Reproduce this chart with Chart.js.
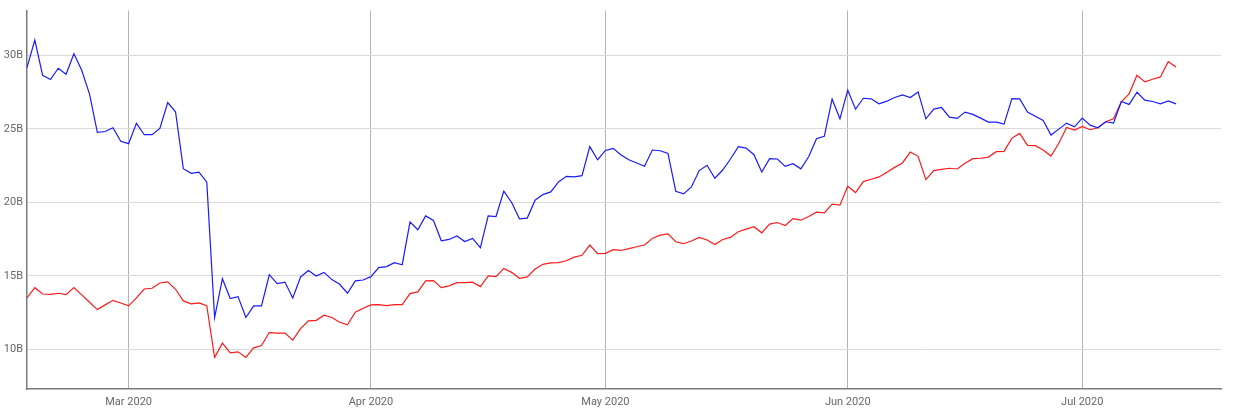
<!DOCTYPE html>
<html>
<head>
<meta charset="utf-8">
<script src="https://cdn.jsdelivr.net/npm/chart.js@4/dist/chart.umd.min.js"></script>
<style>
  html, body { margin: 0; padding: 0; background: #fff; }
  #wrap { width: 1243px; height: 415px; position: relative; }
</style>
</head>
<body>
<div id="wrap"><canvas id="chart"></canvas></div>
<script>
// day-of-year (Jan 1 2020 = 0) of the first point: Feb 17 2020, one point per day
const startDay = 47;

// values in billions
const blueValues = [
  29.16, 31.04, 28.64, 28.35, 29.12, 28.71, 30.11, 28.98, 27.36, 24.76,
  24.82, 25.07, 24.15, 23.99, 25.37, 24.6, 24.6, 25.03, 26.79, 26.16,
  22.29, 21.98, 22.05, 21.37, 12.17, 14.81, 13.46, 13.59, 12.17, 12.96,
  12.96, 15.08, 14.47, 14.58, 13.5, 14.93, 15.36, 14.99, 15.24, 14.75,
  14.43, 13.82, 14.66, 14.72, 14.95, 15.56, 15.63, 15.9, 15.76, 18.66,
  18.14, 19.08, 18.77, 17.39, 17.48, 17.71, 17.34, 17.55, 16.92, 19.08,
  19.04, 20.76, 19.99, 18.88, 18.93, 20.15, 20.53, 20.71, 21.39, 21.77,
  21.73, 21.82, 23.79, 22.9, 23.53, 23.67, 23.22, 22.9, 22.68, 22.45,
  23.56, 23.51, 23.33, 20.76, 20.58, 21.05, 22.16, 22.52, 21.64, 22.2,
  22.95, 23.79, 23.69, 23.24, 22.07, 22.97, 22.95, 22.45, 22.63, 22.28,
  23.1, 24.33, 24.49, 27.02, 25.68, 27.63, 26.34, 27.08, 27.04, 26.7,
  26.88, 27.13, 27.31, 27.13, 27.51, 25.68, 26.34, 26.45, 25.8, 25.71,
  26.14, 25.98, 25.73, 25.46, 25.46, 25.32, 27.06, 27.04, 26.14, 25.86,
  25.57, 24.58, 24.98, 25.39, 25.14, 25.73, 25.25, 25.07, 25.48, 25.39,
  26.86, 26.66, 27.49, 26.95, 26.86, 26.7, 26.9, 26.7
];
const redValues = [
  13.5, 14.2, 13.77, 13.75, 13.82, 13.73, 14.2, 13.71, 13.21, 12.71,
  13.03, 13.34, 13.16, 12.96, 13.5, 14.11, 14.16, 14.52, 14.59, 14.09,
  13.3, 13.1, 13.16, 12.98, 9.46, 10.43, 9.77, 9.84, 9.46, 10.11,
  10.27, 11.15, 11.11, 11.11, 10.63, 11.42, 11.94, 11.98, 12.33, 12.17,
  11.85, 11.67, 12.53, 12.8, 13.03, 13.05, 12.98, 13.05, 13.05, 13.8,
  13.91, 14.66, 14.68, 14.2, 14.32, 14.54, 14.54, 14.57, 14.27, 15.0,
  14.95, 15.51, 15.24, 14.84, 14.93, 15.47, 15.79, 15.88, 15.9, 16.03,
  16.28, 16.4, 17.1, 16.51, 16.53, 16.78, 16.73, 16.85, 16.98, 17.1,
  17.55, 17.77, 17.86, 17.32, 17.19, 17.37, 17.62, 17.44, 17.14, 17.48,
  17.62, 18.0, 18.18, 18.34, 17.93, 18.52, 18.63, 18.43, 18.9, 18.79,
  19.04, 19.33, 19.29, 19.88, 19.81, 21.1, 20.67, 21.41, 21.57, 21.73,
  22.05, 22.38, 22.68, 23.42, 23.13, 21.55, 22.16, 22.25, 22.32, 22.27,
  22.66, 22.97, 23.0, 23.08, 23.45, 23.47, 24.37, 24.69, 23.88, 23.86,
  23.56, 23.15, 24.02, 25.1, 24.92, 25.16, 24.94, 25.07, 25.48, 25.68,
  26.84, 27.38, 28.64, 28.19, 28.37, 28.53, 29.57, 29.21
];

// month ticks on the x axis
const monthDays = [60, 91, 121, 152, 182];
const monthLabels = ['Mar 2020', 'Apr 2020', 'May 2020', 'Jun 2020', 'Jul 2020'];
// y ticks (billions)
const yTicks = [10, 15, 20, 25, 30];

const toPoints = (arr) => arr.map((v, i) => ({ x: startDay + i, y: v }));

Chart.defaults.font.family = 'Roboto, "Noto Sans", sans-serif';
Chart.defaults.font.size = 11;
Chart.defaults.color = '#666';

new Chart(document.getElementById('chart').getContext('2d'), {
    type: 'line',
    data: {
        datasets: [
            {
                label: 'Series 1',
                data: toPoints(blueValues),
                borderColor: '#1a1aff',
                borderWidth: 1.2,
                pointRadius: 0,
                tension: 0,
                fill: false
            },
            {
                label: 'Series 2',
                data: toPoints(redValues),
                borderColor: '#ff1a1a',
                borderWidth: 1.2,
                pointRadius: 0,
                tension: 0,
                fill: false
            }
        ]
    },
    options: {
        responsive: true,
        maintainAspectRatio: false,
        animation: false,
        layout: { padding: { top: 5, right: 22, bottom: 0, left: 0 } },
        plugins: {
            legend: { display: false },
            tooltip: { enabled: false }
        },
        scales: {
            x: {
                type: 'linear',
                min: 47,
                max: 199.75,
                afterBuildTicks: (axis) => {
                    axis.ticks = monthDays.map((d) => ({ value: d }));
                },
                afterFit: (axis) => { axis.height = 26; },
                ticks: {
                    padding: 7,
                    maxRotation: 0,
                    autoSkip: false,
                    callback: (v) => monthLabels[monthDays.indexOf(v)] || ''
                },
                grid: { color: '#b4b4b4', drawTicks: false },
                border: { color: '#7a7a7a', width: 1.5 }
            },
            y: {
                type: 'linear',
                min: 7.31,
                max: 33.04,
                afterBuildTicks: (axis) => {
                    axis.ticks = yTicks.map((v) => ({ value: v }));
                },
                afterFit: (axis) => { axis.width = 27; },
                ticks: {
                    padding: 4,
                    callback: (v) => v + 'B'
                },
                grid: { color: '#dadada', drawTicks: false },
                border: { color: '#7a7a7a', width: 1.5 }
            }
        }
    }
});
</script>
</body>
</html>
